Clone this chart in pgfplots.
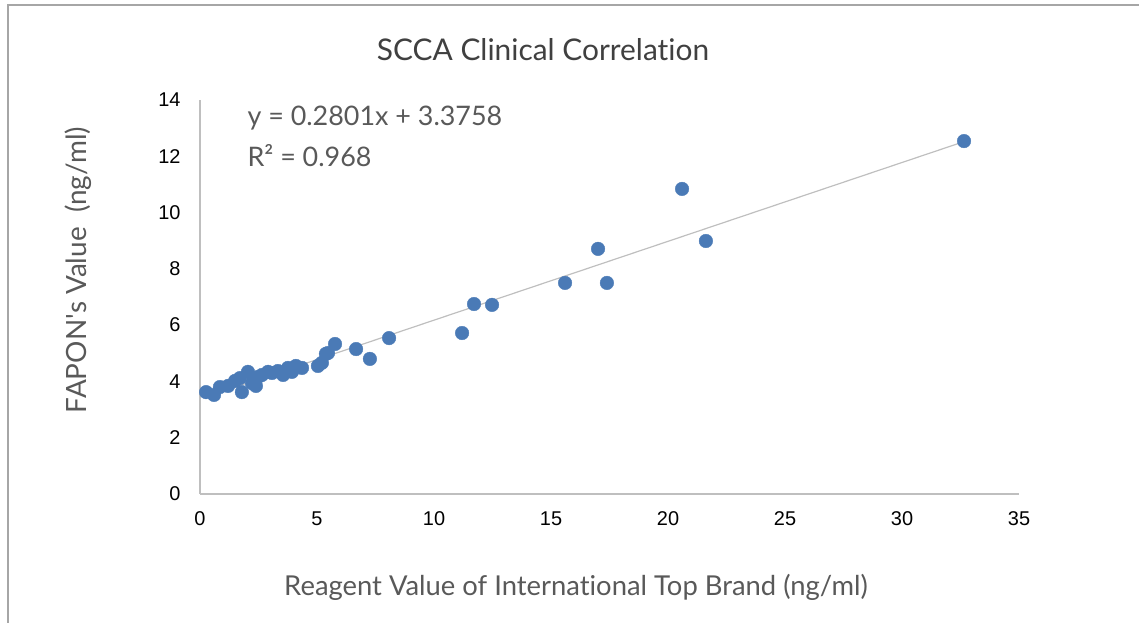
\documentclass[border=0pt]{standalone}
\usepackage{pgfplots}
\pgfplotsset{compat=1.18}
\usepackage{fontspec}
\setmainfont{Lato}[Ligatures=NoCommon]
\newfontfamily\arial{Liberation Sans}
\definecolor{dotblue}{HTML}{4A7AB6}
\definecolor{trendgray}{HTML}{BFBFBF}
\definecolor{axgray}{HTML}{BFBFBF}
\definecolor{txtgray}{HTML}{595959}
\definecolor{titlegray}{HTML}{404040}

\pgfplotstableread{
x y
0.26 3.62
0.60 3.52
0.85 3.80
1.20 3.84
1.50 4.02
1.71 4.12
1.79 3.62
2.05 4.34
2.22 3.94
2.39 3.84
2.48 4.16
2.65 4.23
2.91 4.34
3.08 4.30
3.33 4.37
3.55 4.23
3.76 4.48
3.93 4.34
4.10 4.55
4.36 4.48
5.04 4.55
5.21 4.66
5.38 4.98
5.47 5.01
5.77 5.33
6.67 5.15
7.26 4.80
8.08 5.54
11.20 5.72
11.71 6.75
12.48 6.72
15.60 7.50
17.39 7.50
17.01 8.71
20.60 10.84
21.62 8.99
32.65 12.54
}\scca

\begin{document}
\begin{tikzpicture}
\useasboundingbox (0,0) rectangle (1139bp,623bp);
\draw[color=gray!70, line width=1.2bp] (8bp,-20bp) -- (8bp,618bp) -- (1160bp,618bp);
\begin{axis}[
	at={(200bp,129bp)}, anchor=south west,
	scale only axis, width=819bp, height=394bp,
	xmin=0, xmax=35, ymin=0, ymax=14,
	xtick={0,5,...,35}, ytick={0,2,...,14},
	axis lines=left,
	axis line style={draw=axgray, line width=1.3bp, -},
	major tick length=0pt,
	ticklabel style={font=\arial\fontsize{20}{20}\selectfont, text=black},
	/pgf/number format/assume math mode=true,
	yticklabel style={xshift=-16bp},
	xticklabel style={yshift=-14bp},
	clip=false,
]
\addplot[trendgray, line width=1.2bp] coordinates {(0.26,3.4486) (32.65,12.5210)};
\addplot[only marks, mark=*, mark size=6.8bp, mark options={fill=dotblue, draw=dotblue}] table {\scca};
\end{axis}
\node[text=titlegray, font=\fontsize{30}{30}\selectfont] at (543bp,573bp) {SCCA Clinical Correlation};
\node[text=txtgray, font=\fontsize{27}{27}\selectfont, anchor=west] at (244bp,505bp) {y = 0.2801x + 3.3758};
\node[text=txtgray, font=\fontsize{27}{27}\selectfont, anchor=west] at (244bp,467bp) {R² = 0.968};
\node[text=txtgray, font=\fontsize{27.5}{27.5}\selectfont] at (576bp,36bp) {Reagent Value of International Top Brand (ng/ml)};
\node[text=txtgray, font=\fontsize{28}{28}\selectfont, rotate=90] at (78bp,353bp) {FAPON\textquotesingle s Value\ \ (ng/ml)};
\end{tikzpicture}
\end{document}
